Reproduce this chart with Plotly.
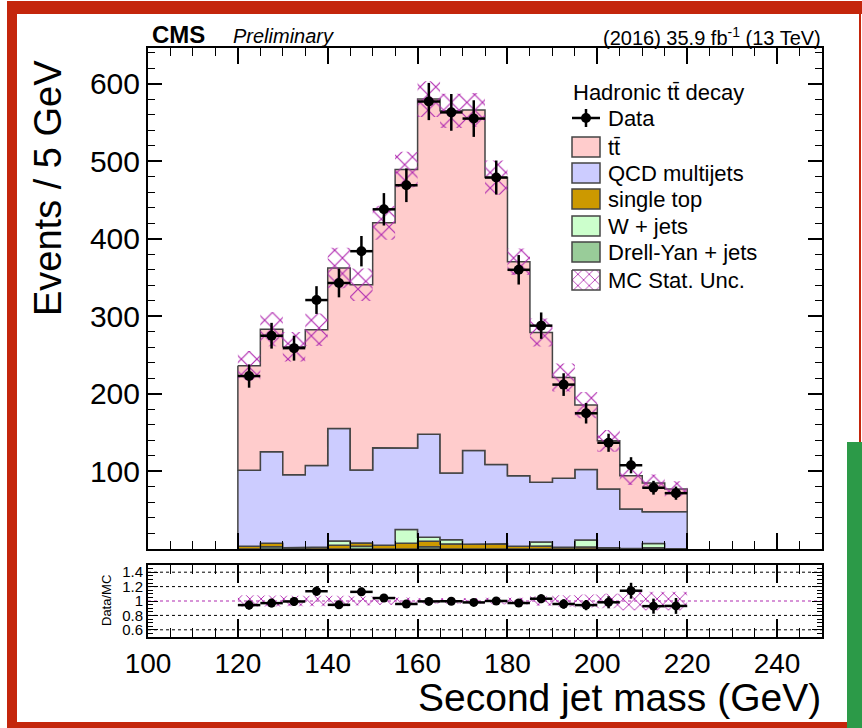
import plotly.graph_objects as go

# ---- binning (second jet mass, 5 GeV bins) ----
bin_lo = [120, 125, 130, 135, 140, 145, 150, 155, 160, 165,
          170, 175, 180, 185, 190, 195, 200, 205, 210, 215]
bin_w = 5

# ---- observed events ----
data = [223, 275, 259, 321, 343, 384, 438, 469, 577, 563,
        555, 479, 360, 288, 212, 175, 137, 108, 79, 72]
data_err = [15, 16.6, 16.1, 17.9, 18.5, 19.6, 20.9, 21.7, 24, 23.7,
            23.6, 21.9, 19, 17, 14.6, 13.2, 11.7, 10.4, 8.9, 8.5]

# ---- simulated backgrounds (stacked bottom to top) ----
dy = [0, 3, 0, 0, 0, 3.5, 0, 0, 3, 0,
      0, 0, 0, 0, 0, 0, 0, 0, 1, 0]
single_top = [3.4, 4.3, 1.7, 2.6, 4.7, 4.3, 4.7, 7.3, 6.9, 6.5,
              6.0, 6.9, 3.4, 3.9, 2.2, 3.0, 1.5, 0.5, 0.5, 0.3]
wjets = [0, 0, 0, 0, 5.6, 0, 0, 18, 5.2, 5.5,
         0, 0, 0, 5.2, 0, 8.6, 0, 0, 5.6, 0]
qcd = [98, 118, 94, 105, 145, 94, 126, 105, 133, 86,
       121, 102, 91, 77, 89, 91, 76, 51, 41, 48]
ttbar = [135, 158, 165, 175, 207, 239, 290, 359, 432, 467,
         439, 370, 276, 193, 130, 83, 62, 43, 37, 29]
mc_unc = [19, 22, 19, 21, 26, 21, 22, 23, 23, 22,
          22, 22, 17, 18, 18, 17, 14, 12, 11, 10]

layers = [
    ("Drell-Yan + jets", dy, "#99cc99"),
    ("single top", single_top, "#cc9900"),
    ("W + jets", wjets, "#ccffcc"),
    ("QCD multijets", qcd, "#ccccff"),
    ("tt\u0304", ttbar, "#ffcccc"),
]

# ---- page geometry ----
W, H = 862, 728
ML, MR, MT, MB = 148, 40, 48, 91
PW, PH = W - ML - MR, H - MT - MB
MAIN_BOTTOM = 549          # pixel row of the main panel's lower frame
RATIO_TOP = 565            # pixel row of the ratio panel's upper frame


def px(x):
    return (x - ML) / PW


def py(y):
    return (H - MB - y) / PH


def step_polygon(lo, hi):
    """Closed outline of a histogram band between two per-bin levels."""
    xs, ys = [], []
    for i, x0 in enumerate(bin_lo):
        xs += [x0, x0 + bin_w]
        ys += [hi[i], hi[i]]
    for i in range(len(bin_lo) - 1, -1, -1):
        x0 = bin_lo[i]
        xs += [x0 + bin_w, x0]
        ys += [lo[i], lo[i]]
    xs.append(xs[0])
    ys.append(ys[0])
    return xs, ys


def box_polygons(lo, hi):
    xs, ys = [], []
    for i, x0 in enumerate(bin_lo):
        x1 = x0 + bin_w
        xs += [x0, x1, x1, x0, x0, None]
        ys += [lo[i], lo[i], hi[i], hi[i], lo[i], None]
    return xs, ys


fig = go.Figure()

# stacked histograms
base = [0.0] * len(bin_lo)
for name, vals, col in layers:
    top = [b + v for b, v in zip(base, vals)]
    xs, ys = step_polygon(base, top)
    fig.add_trace(go.Scatter(x=xs, y=ys, mode="lines", fill="toself",
                             fillcolor=col, line=dict(color="#444444", width=1.5),
                             hoverinfo="skip", showlegend=False,
                             xaxis="x", yaxis="y"))
    base = top
total = base

# MC statistical uncertainty band (magenta cross-hatch)
hatch = dict(shape="x", fgcolor="#b02ab0", fgopacity=1, fillmode="replace",
             bgcolor="rgba(0,0,0,0)", size=11, solidity=0.2)
hx, hy = box_polygons([t - u for t, u in zip(total, mc_unc)],
                      [t + u for t, u in zip(total, mc_unc)])
fig.add_trace(go.Scatter(x=hx, y=hy, mode="lines", fill="toself",
                         fillcolor="rgba(0,0,0,0)", fillpattern=hatch,
                         line=dict(width=0), hoverinfo="skip", showlegend=False,
                         xaxis="x", yaxis="y"))

centers = [x0 + bin_w / 2 for x0 in bin_lo]
fig.add_trace(go.Scatter(x=centers, y=data, mode="markers",
                         marker=dict(color="black", size=10),
                         error_y=dict(type="data", array=data_err, color="black",
                                      thickness=2.5, width=0),
                         error_x=dict(type="constant", value=bin_w / 2, color="black",
                                      thickness=2.5, width=0),
                         showlegend=False, xaxis="x", yaxis="y"))

# ---- ratio panel ----
rel_unc = [u / t for u, t in zip(mc_unc, total)]
rx, ry = box_polygons([1 - r for r in rel_unc], [1 + r for r in rel_unc])
fig.add_trace(go.Scatter(x=rx, y=ry, mode="lines", fill="toself",
                         fillcolor="rgba(0,0,0,0)",
                         fillpattern=dict(hatch, size=8, solidity=0.22),
                         line=dict(width=0), hoverinfo="skip", showlegend=False,
                         xaxis="x2", yaxis="y2"))
ratio = [d / t for d, t in zip(data, total)]
ratio_err = [e / t for e, t in zip(data_err, total)]
fig.add_trace(go.Scatter(x=centers, y=ratio, mode="markers",
                         marker=dict(color="black", size=9),
                         error_y=dict(type="data", array=ratio_err, color="black",
                                      thickness=2.5, width=0),
                         error_x=dict(type="constant", value=bin_w / 2, color="black",
                                      thickness=2.5, width=0),
                         showlegend=False, xaxis="x2", yaxis="y2"))

shapes = []
for lvl in [0.6, 0.8, 1.2, 1.4]:
    shapes.append(dict(type="line", xref="x2", yref="y2", x0=100, x1=250, y0=lvl, y1=lvl,
                       line=dict(color="black", width=1, dash="dot"), layer="below"))
shapes.append(dict(type="line", xref="x2", yref="y2", x0=100, x1=250, y0=1, y1=1,
                   line=dict(color="#b02ab0", width=1.2, dash="dot"), layer="below"))

# ---- legend (drawn in a pixel-space overlay of the main panel) ----
leg_x0, leg_x1 = 572, 600
leg_rows = {"Data": 118, "tt\u0304": 147, "QCD multijets": 173, "single top": 199,
            "W + jets": 226, "Drell-Yan + jets": 252, "MC Stat. Unc.": 280}
leg_colors = {name: col for name, _, col in layers}
annotations = []
for name, yc in leg_rows.items():
    annotations.append(dict(xref="x3", yref="y3", x=606, y=yc, text=name,
                            showarrow=False, xanchor="left", yanchor="middle",
                            font=dict(size=22, color="black")))
    if name in leg_colors:
        shapes.append(dict(type="rect", xref="x3", yref="y3", x0=leg_x0, x1=leg_x1,
                           y0=yc - 10, y1=yc + 10, fillcolor=leg_colors[name],
                           line=dict(color="#444444", width=1.5)))
annotations.append(dict(xref="x3", yref="y3", x=571, y=92, text="Hadronic tt\u0304 decay",
                        showarrow=False, xanchor="left", yanchor="middle",
                        font=dict(size=22, color="black")))
ymc = leg_rows["MC Stat. Unc."]
fig.add_trace(go.Scatter(x=[leg_x0, leg_x1, leg_x1, leg_x0, leg_x0],
                         y=[ymc - 10, ymc - 10, ymc + 10, ymc + 10, ymc - 10],
                         mode="lines", fill="toself", fillcolor="rgba(0,0,0,0)",
                         fillpattern=dict(hatch, size=8), line=dict(color="#444444", width=1.5),
                         hoverinfo="skip", showlegend=False, xaxis="x3", yaxis="y3"))
yd = leg_rows["Data"]
fig.add_trace(go.Scatter(x=[(leg_x0 + leg_x1) / 2], y=[yd], mode="markers",
                         marker=dict(color="black", size=10),
                         error_x=dict(type="constant", value=(leg_x1 - leg_x0) / 2,
                                      color="black", thickness=2.5, width=0),
                         error_y=dict(type="constant", value=9, color="black",
                                      thickness=2.5, width=0),
                         showlegend=False, xaxis="x3", yaxis="y3"))

# ---- texts around the frame ----
annotations += [
    dict(xref="paper", yref="paper", x=px(150), y=py(35), text="<b>CMS</b>",
         showarrow=False, xanchor="left", yanchor="middle",
         font=dict(size=24, color="black")),
    dict(xref="paper", yref="paper", x=px(231), y=py(36), text="<i>Preliminary</i>",
         showarrow=False, xanchor="left", yanchor="middle",
         font=dict(size=20, color="black")),
    dict(xref="paper", yref="paper", x=px(823), y=py(36),
         text="(2016) 35.9 fb<sup>-1</sup> (13 TeV)",
         showarrow=False, xanchor="right", yanchor="middle",
         font=dict(size=20, color="black")),
    dict(xref="paper", yref="paper", x=px(48), y=py(58), text="Events / 5 GeV",
         textangle=-90, showarrow=False, xanchor="center", yanchor="top",
         font=dict(size=38, color="black")),
    dict(xref="paper", yref="paper", x=px(823), y=py(697), text="Second jet mass (GeV)",
         showarrow=False, xanchor="right", yanchor="middle",
         font=dict(size=39, color="black")),
    dict(xref="paper", yref="paper", x=px(106), y=py(601), text="Data/MC",
         textangle=-90, showarrow=False, xanchor="center", yanchor="middle",
         font=dict(size=13, color="black")),
]

# ---- page border decoration ----
red = "#c4260c"
for x0, y0, x1, y1, col in [
    (7, 1, 862, 14, red),
    (7, 1, 17, 728, red),
    (7, 722, 848, 728, red),
    (859, 1, 861, 442, red),
    (847, 442, 862, 728, "#2c9a48"),
]:
    shapes.append(dict(type="rect", xref="paper", yref="paper",
                       x0=px(x0), x1=px(x1), y0=py(y1), y1=py(y0),
                       fillcolor=col, line=dict(width=0), layer="above"))

axis_common = dict(showline=True, linecolor="black", linewidth=2, mirror="ticks",
                   ticks="inside", tickcolor="black", showgrid=False, zeroline=False,
                   tickfont=dict(size=28, color="black"))

fig.update_layout(
    width=W, height=H,
    margin=dict(l=ML, r=MR, t=MT, b=MB, pad=0),
    paper_bgcolor="white", plot_bgcolor="white",
    font=dict(family="Liberation Sans, Arial, sans-serif", color="black"),
    showlegend=False,
    xaxis=dict(**axis_common, range=[100, 250], dtick=20, ticklen=16, tickwidth=1.5,
               showticklabels=False, anchor="y",
               minor=dict(ticks="inside", dtick=5, ticklen=8, tickcolor="black",
                          tickwidth=1.2)),
    yaxis=dict(**{**axis_common, "tickfont": dict(size=30, color="black")},
               range=[0, 646], domain=[py(MAIN_BOTTOM), 1.0], ticklen=14,
               tickwidth=1.5, tickvals=[100, 200, 300, 400, 500, 600], anchor="x",
               minor=dict(ticks="inside", dtick=20, ticklen=7, tickcolor="black",
                          tickwidth=1.2)),
    xaxis2=dict(**axis_common, range=[100, 250], dtick=20, ticklen=18, tickwidth=1.5,
                anchor="y2", matches="x",
                minor=dict(ticks="inside", dtick=5, ticklen=9, tickcolor="black",
                           tickwidth=1.2)),
    yaxis2=dict(**{**axis_common, "tickfont": dict(size=15, color="black")},
                range=[0.5, 1.5], domain=[0, py(RATIO_TOP)],
                tickvals=[0.6, 0.8, 1.0, 1.2, 1.4],
                ticktext=["0.6", "0.8", "1", "1.2", "1.4"],
                ticklen=10, tickwidth=1.2, anchor="x2",
                minor=dict(ticks="inside", dtick=0.05, ticklen=5, tickcolor="black",
                           tickwidth=1)),
    # overlay axes in pixel units; y3 shares the main panel's domain
    xaxis3=dict(range=[ML, W - MR], visible=False, anchor="y3", overlaying="x"),
    yaxis3=dict(range=[MAIN_BOTTOM, MT], visible=False, anchor="x3", overlaying="y"),
    shapes=shapes,
    annotations=annotations,
)

fig.write_html("out.html")
